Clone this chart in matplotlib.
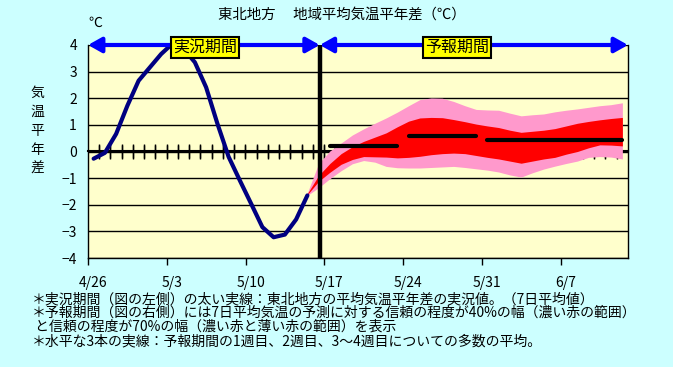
import numpy as np
import matplotlib
matplotlib.use("Agg")
import matplotlib.pyplot as plt
from matplotlib.transforms import ScaledTranslation

plt.rcParams['font.family'] = ['Noto Sans CJK JP', 'DejaVu Sans']

# 実況値 (7日平均, 4/26 から毎日)
obs_start = 0
obs_vals = [-0.27, -0.05, 0.66, 1.72, 2.66, 3.16, 3.66, 4.05, 3.85, 3.35,
            2.41, 1.05, -0.2, -1.09, -1.96, -2.84, -3.22, -3.12, -2.55, -1.65]

# 予報 (5/15 から 6/12 まで毎日)
fc_start = 19
p_hi = [-1.55, -0.45, 0.02, 0.32, 0.62, 0.85, 1.06, 1.26, 1.48, 1.72,
        1.95, 2.01, 2.0, 1.88, 1.72, 1.58, 1.56, 1.55, 1.44, 1.34,
        1.38, 1.41, 1.49, 1.55, 1.6, 1.66, 1.72, 1.76, 1.83]
r_hi = [-1.58, -0.9, -0.45, -0.08, 0.18, 0.38, 0.54, 0.7, 0.93, 1.14,
        1.26, 1.28, 1.27, 1.2, 1.12, 1.03, 0.96, 0.9, 0.8, 0.72,
        0.76, 0.8, 0.86, 0.96, 1.06, 1.13, 1.19, 1.24, 1.28]
r_lo = [-1.62, -1.12, -0.78, -0.48, -0.3, -0.19, -0.2, -0.21, -0.24, -0.22,
        -0.18, -0.12, -0.08, -0.06, -0.08, -0.15, -0.22, -0.28, -0.36, -0.44,
        -0.36, -0.28, -0.22, -0.1, 0.0, 0.14, 0.25, 0.24, 0.21]
p_lo = [-1.65, -1.36, -1.02, -0.72, -0.46, -0.34, -0.4, -0.56, -0.61, -0.62,
        -0.62, -0.6, -0.58, -0.56, -0.6, -0.65, -0.7, -0.77, -0.88, -0.96,
        -0.8, -0.66, -0.55, -0.45, -0.36, -0.22, -0.19, -0.21, -0.28]

# 1週目, 2週目, 3~4週目の平均 (開始日, 終了日 は 4/26 からの日数)
week_start = [21, 28, 35]
week_end = [27, 34, 47]
week_mean = [0.2, 0.57, 0.44]

xtick_days = [0, 7, 14, 21, 28, 35, 42]
xtick_labels = ['4/26', '5/3', '5/10', '5/17', '5/24', '5/31', '6/7']
n_days = 48
split_day = 20.6

notes = [
    '＊実況期間（図の左側）の太い実線：東北地方の平均気温平年差の実況値。（7日平均値）',
    '＊予報期間（図の右側）には7日平均気温の予測に対する信頼の程度が40%の幅（濃い赤の範囲）',
    ' と信頼の程度が70%の幅（濃い赤と薄い赤の範囲）を表示',
    '＊水平な3本の実線：予報期間の1週目、2週目、3～4週目についての多数の平均。',
]

fig = plt.figure(figsize=(6.73, 3.67), dpi=100, facecolor='#CCFFFF')
ax = fig.add_axes([88/673, 109/367, 540/673, 213/367])
ax.set_facecolor('#FFFFCC')

# 0線と日ごとの目盛
zero = ax.secondary_xaxis(0.5)
zero.set_xticks(np.arange(1, n_days))
zero.set_xticklabels([])
zero.tick_params(axis='x', which='both', top=True, bottom=True, labeltop=False,
                 labelbottom=False, direction='inout', length=10, width=1, color='black')
for sp in zero.spines.values():
    sp.set_linewidth(1.5)
    sp.set_color('black')

obs_x = np.arange(len(obs_vals)) + obs_start + 0.5
fc_x = np.arange(len(p_hi)) + fc_start + 0.5

ax.fill_between(fc_x, p_lo, p_hi, color='#FF99CC', lw=0, zorder=2)
ax.fill_between(fc_x, r_lo, r_hi, color='#FF0000', lw=0, zorder=3)
ax.plot(obs_x, obs_vals, color='#000080', lw=3, solid_capstyle='round',
        solid_joinstyle='round', zorder=4)
for s, e, m in zip(week_start, week_end, week_mean):
    ax.plot([s + 0.5, e + 0.5], [m, m], color='black', lw=3, solid_capstyle='round', zorder=5)

ax.axvline(split_day, ymin=0.006, ymax=1, color='black', lw=3.2, zorder=6)

arrow = dict(arrowstyle='<|-|>,head_length=0.8,head_width=0.45', color='#0000FF',
             lw=3, shrinkA=0, shrinkB=0, mutation_scale=10)
ax.annotate('', xy=(0, 4), xytext=(split_day, 4), arrowprops=arrow,
            annotation_clip=False, zorder=7)
ax.annotate('', xy=(split_day, 4), xytext=(n_days, 4), arrowprops=arrow,
            annotation_clip=False, zorder=7)
box = dict(boxstyle='square,pad=0.12', fc='#FFFF00', ec='black', lw=1.5)
ax.text(10.4, 3.92, '実況期間', ha='center', va='center', fontsize=11.5, bbox=box, zorder=8)
ax.text(32.8, 3.92, '予報期間', ha='center', va='center', fontsize=11.5, bbox=box, zorder=8)

ax.set_xlim(0, n_days)
ax.set_ylim(-4, 4)
ax.set_xticks(xtick_days)
ax.set_xticklabels(xtick_labels)
ax.set_yticks(range(-4, 5))
ax.grid(axis='y', color='black', lw=1)
ax.set_axisbelow(True)
ax.tick_params(axis='x', direction='out', length=5, width=1, pad=8, labelsize=10)
ax.tick_params(axis='y', length=0, pad=8, labelsize=10)
for sp in ax.spines.values():
    sp.set_color('black')
    sp.set_linewidth(1)
ax.spines['top'].set_visible(False)

shift = ScaledTranslation(5/100, 0, fig.dpi_scale_trans)
for lab in ax.get_xticklabels():
    lab.set_transform(lab.get_transform() + shift)

fig.text(218/673, 1 - 15/367, '東北地方　 地域平均気温平年差（℃）', ha='left', va='center', fontsize=10.4)
fig.text(95/673, 1 - 23/367, '℃', ha='center', va='center', fontsize=10)
fig.text(37/673, 1 - 131/367, '\n'.join('気温平年差'), ha='center', va='center',
         fontsize=10, linespacing=1.45)

for i, line in enumerate(notes):
    y = [299, 312.5, 327, 341][i]
    fig.text(32/673, 1 - y/367, line, ha='left', va='center', fontsize=10)

fig.savefig('out.png', dpi=100, facecolor=fig.get_facecolor())
